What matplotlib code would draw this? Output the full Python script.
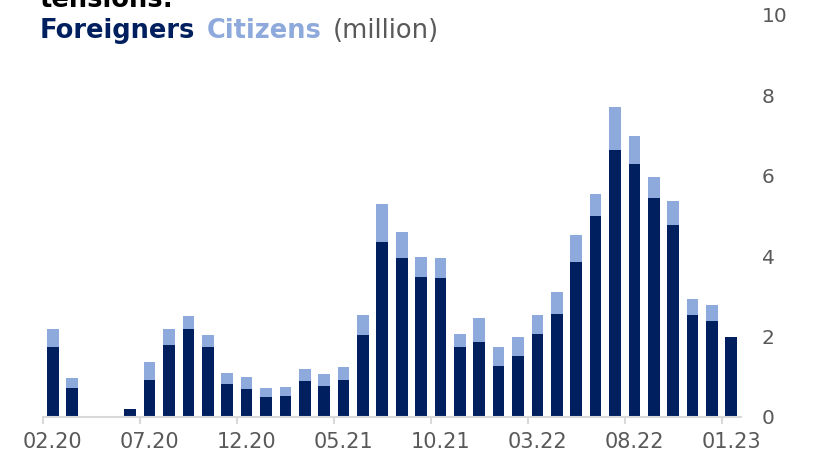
import matplotlib
matplotlib.use("Agg")
import matplotlib.pyplot as plt
import numpy as np

# Monthly data (million)
months = ["02.20", "03.20", "04.20", "05.20", "06.20", "07.20", "08.20", "09.20",
          "10.20", "11.20", "12.20", "01.21", "02.21", "03.21", "04.21", "05.21",
          "06.21", "07.21", "08.21", "09.21", "10.21", "11.21", "12.21", "01.22",
          "02.22", "03.22", "04.22", "05.22", "06.22", "07.22", "08.22", "09.22",
          "10.22", "11.22", "12.22", "01.23"]
foreigners = [1.73, 0.71, 0.02, 0.02, 0.21, 0.93, 1.80, 2.19, 1.73, 0.82, 0.69, 0.50,
              0.53, 0.90, 0.78, 0.92, 2.04, 4.36, 3.96, 3.49, 3.46, 1.74, 1.87, 1.27,
              1.52, 2.07, 2.57, 3.86, 5.00, 6.65, 6.30, 5.45, 4.78, 2.54, 2.39, 1.99]
citizens = [0.45, 0.25, 0.01, 0.01, 0.00, 0.44, 0.38, 0.33, 0.30, 0.28, 0.30, 0.21,
            0.22, 0.29, 0.28, 0.33, 0.50, 0.94, 0.65, 0.49, 0.50, 0.33, 0.60, 0.47,
            0.47, 0.47, 0.54, 0.67, 0.55, 1.07, 0.70, 0.53, 0.60, 0.40, 0.40, 0.00]

NAVY = "#001F5F"
LIGHT = "#8EA9DB"
GREY = "#595959"
AXIS_GREY = "#D9D9D9"

W, H = 813, 458
fig = plt.figure(figsize=(W / 100, H / 100), dpi=100)
ax = fig.add_axes([43 / W, (H - 417) / H, 698 / W, 402 / H])

x = np.arange(len(months))
ax.bar(x, foreigners, width=0.6, color=NAVY, linewidth=0)
ax.bar(x, citizens, width=0.6, bottom=foreigners, color=LIGHT, linewidth=0)

ax.set_xlim(-0.5, len(months) - 0.5)
ax.set_ylim(0, 10)

# Y axis on the right, labels only
ax.yaxis.tick_right()
ax.set_yticks(np.arange(0, 11, 2))
ax.tick_params(axis="y", length=0, pad=15, labelsize=14.5, labelcolor=GREY)

# X axis: labels every 5 months, tick marks between categories
ax.set_xticks(x[::5])
ax.set_xticklabels(months[::5])
ax.set_xticks(x[::5] - 0.5, minor=True)
ax.tick_params(axis="x", which="major", length=0, pad=11, labelsize=15,
               labelcolor=GREY)
ax.tick_params(axis="x", which="minor", length=5, width=1.5, color=AXIS_GREY)

for side in ["top", "left", "right"]:
    ax.spines[side].set_visible(False)
ax.spines["bottom"].set_color(AXIS_GREY)
ax.spines["bottom"].set_linewidth(1.5)

# Title and coloured legend line
fig.text(40 / W, (H - 7) / H, "tensions:", fontsize=18.5, fontweight="bold",
         color="black", ha="left", va="baseline")

renderer = fig.canvas.get_renderer()
x_pos = 40 / W
y_base = (H - 38) / H
parts = [("Foreigners", NAVY, "bold"), ("Citizens", LIGHT, "bold"),
         ("(million)", GREY, "normal")]
for text, col, wt in parts:
    t = fig.text(x_pos, y_base, text, fontsize=18.5, fontweight=wt, color=col,
                 ha="left", va="baseline")
    bb = t.get_window_extent(renderer=renderer)
    x_pos = (bb.x1 + 11) / W

fig.savefig("out.png", dpi=100)
